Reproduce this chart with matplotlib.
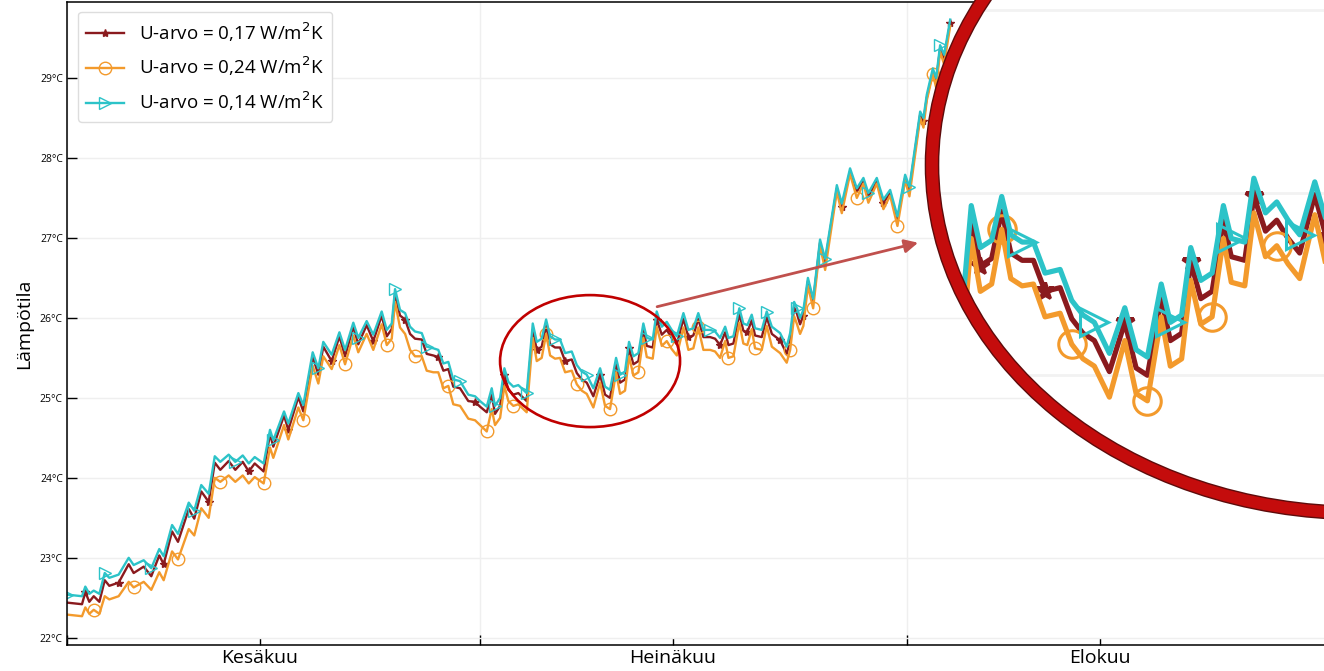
import matplotlib
matplotlib.use("Agg")
import matplotlib.pyplot as plt
from matplotlib.patches import Ellipse

plt.rcParams['font.family'] = ['Open Sans', 'DejaVu Sans']

# aika päivinä kesäkuun 1. päivästä
paiva = [
    0.00, 1.09, 1.33, 1.62, 1.94, 2.35, 2.74, 3.07, 3.75, 4.48,
    4.84, 5.57, 6.12, 6.70, 7.02, 7.63, 8.06, 8.84, 9.24, 9.75,
    10.29, 10.73, 11.13, 11.74, 12.22, 12.76, 13.20, 13.63, 14.28, 14.74,
    14.98, 15.76, 16.07, 16.80, 17.16, 17.84, 18.25, 18.61, 19.22, 19.78,
    20.19, 20.79, 21.15, 21.76, 22.24, 22.85, 23.22, 23.58, 23.82, 24.18,
    24.55, 24.91, 25.27, 25.76, 26.12, 26.60, 26.96, 27.33, 27.69, 28.05,
    28.54, 29.14, 29.63, 29.99, 30.48, 30.84, 31.08, 31.45, 31.76, 32.05,
    32.41, 32.77, 33.38, 33.82, 34.11, 34.47, 34.79, 35.08, 35.44, 35.80,
    36.17, 36.65, 37.02, 37.38, 37.74, 38.22, 38.71, 39.07, 39.43, 39.87,
    40.16, 40.52, 40.81, 41.13, 41.49, 41.85, 42.10, 42.53, 42.82, 43.19,
    43.55, 43.91, 44.28, 44.76, 45.12, 45.48, 45.84, 46.21, 46.70, 47.06,
    47.42, 47.79, 48.03, 48.39, 48.82, 49.11, 49.40, 49.72, 49.96, 50.45,
    50.81, 51.18, 51.78, 52.26, 52.51, 52.80, 53.01, 53.23, 53.47, 53.80,
    54.18, 54.68, 55.05, 55.90, 56.26, 56.86, 57.35, 57.83, 58.19, 58.80,
    59.28, 59.77, 60.30, 60.86, 61.17, 61.95, 62.19, 62.43, 62.87, 63.11,
    63.40, 63.69, 64.13,
]

# sisälämpötila, U-arvo 0,17 W/m2K
u017 = [
    22.44, 22.42, 22.57, 22.45, 22.52, 22.45, 22.72, 22.65, 22.69, 22.92,
    22.81, 22.89, 22.77, 23.03, 22.92, 23.33, 23.20, 23.61, 23.49, 23.83,
    23.70, 24.19, 24.10, 24.21, 24.10, 24.20, 24.08, 24.18, 24.08, 24.55,
    24.39, 24.78, 24.60, 25.01, 24.83, 25.52, 25.29, 25.64, 25.46, 25.77,
    25.52, 25.89, 25.67, 25.91, 25.71, 26.03, 25.77, 25.86, 26.30, 26.03,
    25.98, 25.80, 25.74, 25.73, 25.55, 25.53, 25.51, 25.34, 25.36, 25.14,
    25.12, 24.96, 24.95, 24.89, 24.82, 25.04, 24.80, 24.90, 25.29, 25.10,
    25.04, 25.06, 24.96, 25.85, 25.60, 25.64, 25.90, 25.67, 25.63, 25.63,
    25.46, 25.48, 25.31, 25.23, 25.19, 25.02, 25.29, 25.04, 25.00, 25.42,
    25.19, 25.23, 25.62, 25.42, 25.46, 25.85, 25.65, 25.63, 25.98, 25.79,
    25.85, 25.75, 25.67, 25.99, 25.76, 25.78, 25.99, 25.76, 25.76, 25.74,
    25.66, 25.82, 25.66, 25.68, 26.05, 25.84, 25.82, 25.97, 25.78, 25.76,
    26.01, 25.80, 25.72, 25.55, 25.73, 26.13, 26.05, 25.92, 26.03, 26.46,
    26.20, 26.94, 26.70, 27.62, 27.39, 27.83, 27.58, 27.71, 27.52, 27.71,
    27.44, 27.56, 27.23, 27.75, 27.60, 28.54, 28.46, 28.75, 29.08, 28.96,
    29.37, 29.25, 29.69,
]

# sisälämpötila, U-arvo 0,24 W/m2K
u024 = [
    22.29, 22.27, 22.38, 22.30, 22.35, 22.30, 22.52, 22.48, 22.52, 22.70,
    22.63, 22.70, 22.60, 22.82, 22.72, 23.08, 22.98, 23.36, 23.28, 23.62,
    23.50, 24.00, 23.95, 24.03, 23.95, 24.03, 23.93, 24.01, 23.93, 24.38,
    24.25, 24.66, 24.48, 24.88, 24.72, 25.40, 25.18, 25.52, 25.36, 25.66,
    25.42, 25.78, 25.57, 25.80, 25.60, 25.92, 25.66, 25.74, 26.20, 25.88,
    25.80, 25.60, 25.52, 25.52, 25.34, 25.32, 25.32, 25.12, 25.15, 24.92,
    24.90, 24.74, 24.72, 24.66, 24.58, 24.86, 24.66, 24.75, 25.15, 24.96,
    24.90, 24.92, 24.82, 25.75, 25.46, 25.50, 25.80, 25.53, 25.49, 25.50,
    25.32, 25.34, 25.17, 25.09, 25.05, 24.88, 25.19, 24.90, 24.86, 25.32,
    25.05, 25.09, 25.52, 25.28, 25.32, 25.75, 25.51, 25.49, 25.89, 25.65,
    25.71, 25.61, 25.53, 25.88, 25.60, 25.62, 25.88, 25.60, 25.60, 25.58,
    25.50, 25.71, 25.50, 25.52, 25.94, 25.68, 25.66, 25.86, 25.62, 25.60,
    25.90, 25.64, 25.56, 25.44, 25.60, 26.02, 25.92, 25.80, 25.90, 26.40,
    26.12, 26.90, 26.60, 27.58, 27.31, 27.80, 27.50, 27.68, 27.44, 27.68,
    27.36, 27.53, 27.15, 27.72, 27.52, 28.50, 28.38, 28.72, 29.05, 28.88,
    29.33, 29.17, 29.65,
]

# sisälämpötila, U-arvo 0,14 W/m2K
u014 = [
    22.54, 22.52, 22.64, 22.55, 22.59, 22.55, 22.81, 22.75, 22.79, 23.00,
    22.91, 22.97, 22.87, 23.11, 23.02, 23.41, 23.30, 23.69, 23.59, 23.91,
    23.80, 24.27, 24.20, 24.29, 24.20, 24.28, 24.18, 24.26, 24.18, 24.60,
    24.47, 24.83, 24.68, 25.06, 24.91, 25.57, 25.37, 25.70, 25.54, 25.82,
    25.60, 25.94, 25.75, 25.96, 25.79, 26.08, 25.85, 25.93, 26.36, 26.10,
    26.06, 25.89, 25.83, 25.81, 25.64, 25.62, 25.60, 25.43, 25.45, 25.23,
    25.21, 25.04, 25.02, 24.96, 24.89, 25.12, 24.90, 25.00, 25.37, 25.20,
    25.14, 25.16, 25.06, 25.93, 25.70, 25.74, 25.98, 25.77, 25.73, 25.73,
    25.56, 25.58, 25.41, 25.33, 25.29, 25.12, 25.37, 25.14, 25.10, 25.50,
    25.29, 25.33, 25.70, 25.52, 25.56, 25.93, 25.75, 25.73, 26.08, 25.89,
    25.95, 25.85, 25.77, 26.06, 25.85, 25.87, 26.06, 25.85, 25.85, 25.83,
    25.75, 25.89, 25.75, 25.77, 26.12, 25.93, 25.91, 26.04, 25.87, 25.85,
    26.08, 25.89, 25.81, 25.64, 25.81, 26.20, 26.12, 26.00, 26.10, 26.50,
    26.24, 26.98, 26.74, 27.66, 27.43, 27.87, 27.62, 27.75, 27.56, 27.75,
    27.48, 27.60, 27.27, 27.79, 27.64, 28.58, 28.50, 28.79, 29.12, 29.00,
    29.41, 29.29, 29.73,
]

kuukaudet = ['Kesäkuu', 'Heinäkuu', 'Elokuu']
kuun_alku = [0, 30, 61]
kuun_keski = [14, 44, 75]
asteet = [22, 23, 24, 25, 26, 27, 28, 29]

# nimi, arvot, väri, merkki, ensimmäinen merkki
sarjat = [
    ('U-arvo = 0,17 W/m$^2$K', u017, '#8a1a1e', '*', 2),
    ('U-arvo = 0,24 W/m$^2$K', u024, '#f39a2c', 'o', 4),
    ('U-arvo = 0,14 W/m$^2$K', u014, '#2cc3c8', '>', 0),
]


def piirra(ax, skaala=1.0):
    viivat = []
    for nimi, arvot, vari, merkki, alku in sarjat:
        koko = 6 if merkki == '*' else 9
        viiva, = ax.plot(paiva, arvot, color=vari, lw=1.7 * skaala,
                         marker=merkki, markevery=slice(alku, None, 6),
                         ms=koko * skaala, mew=1.0 * skaala, mec=vari,
                         mfc=vari if merkki == '*' else 'none', label=nimi)
        viivat.append(viiva)
    return viivat


fig = plt.figure(figsize=(13.24, 6.71), dpi=100)
ax = fig.add_axes([67 / 1324, 26 / 671, 1267 / 1324, 643 / 671])

piirra(ax)

ax.set_xlim(0, 92)
ax.set_ylim(21.91, 29.95)
ax.set_xticks(kuun_alku)
ax.set_xticklabels([])
ax.set_xticks(kuun_keski, minor=True)
ax.set_xticklabels(kuukaudet, minor=True, fontsize=14)
ax.set_yticks(asteet)
ax.set_yticklabels([f'{a}°C' for a in asteet], fontsize=7.5)
ax.tick_params(axis='x', which='major', direction='in', length=7, width=1)
ax.tick_params(axis='x', which='minor', direction='in', length=5, width=1, pad=3)
ax.tick_params(axis='y', direction='in', length=7, width=1, pad=3)
ax.grid(True, which='major', color='#efefef', lw=1)
for s in ax.spines.values():
    s.set_linewidth(1.1)
ax.set_ylabel('Lämpötila', fontsize=14, labelpad=5)

ax.legend(loc='upper left', bbox_to_anchor=(0.0087, 0.985), borderaxespad=0,
          fontsize=13.5, labelspacing=0.6, handlelength=2.0, handletextpad=0.8,
          borderpad=0.45, framealpha=1, edgecolor='#dddddd')

# rajattu alue ja nuoli suurennokseen
ax.add_patch(Ellipse((37.98, 25.46), 13.07, 1.65, fill=False,
                     edgecolor='#c00000', lw=1.9, zorder=4))
ax.annotate('', xy=(61.8, 26.94), xytext=(42.85, 26.14),
            arrowprops=dict(arrowstyle='-|>', color='#c0504d', lw=2,
                            mutation_scale=20, shrinkA=0, shrinkB=0),
            zorder=4)

# suurennos
ax_in = fig.add_axes([932 / 1324, 158 / 671, 856 / 1324, 696 / 671])
ax_in.set_axis_off()
ax_in.set_xlim(32.57, 59.83)
ax_in.set_ylim(24.245, 28.06)
tausta = Ellipse((0.5, 0.5), 1, 1, transform=ax_in.transAxes,
                 facecolor='white', edgecolor='none', zorder=0)
ax_in.add_patch(tausta)
for a in asteet:
    g = ax_in.axhline(a, color='#f2f2f2', lw=2, zorder=0.5)
    g.set_clip_path(tausta)
for viiva in piirra(ax_in, skaala=2.2):
    viiva.set_clip_path(tausta)
ax_in.add_patch(Ellipse((0.5, 0.5), 1, 1, transform=ax_in.transAxes,
                        fill=False, edgecolor='#5e0b0b', lw=10.5,
                        zorder=10, clip_on=False))
ax_in.add_patch(Ellipse((0.5, 0.5), 1, 1, transform=ax_in.transAxes,
                        fill=False, edgecolor='#c40c0c', lw=8.5,
                        zorder=11, clip_on=False))

fig.savefig('out.png', dpi=100)
